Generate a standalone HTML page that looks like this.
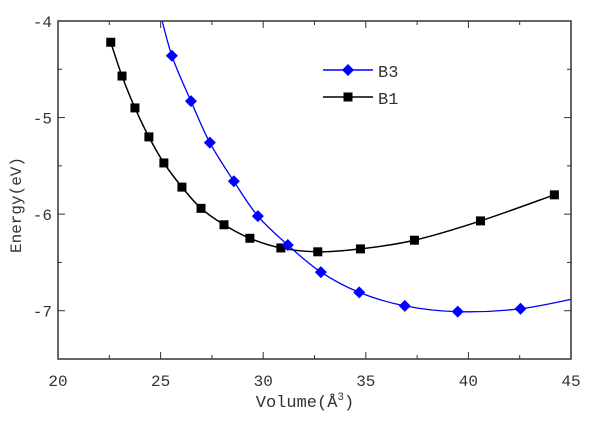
<!DOCTYPE html>
<html><head><meta charset="utf-8"><style>
body{margin:0;background:#fff;}
svg text{font-family:"Liberation Mono","DejaVu Sans Mono",monospace;fill:#333;}
</style></head><body>
<svg id="chart" width="600" height="417">
<defs><clipPath id="clip"><rect x="58" y="21" width="513" height="338"/></clipPath></defs>
<g id="series" clip-path="url(#clip)"></g>
<g id="axes"></g>
</svg>
<script>
const xTicks=[20,25,30,35,40,45];
const yTicks=[-4,-5,-6,-7];
const b1X=[22.57,23.12,23.75,24.43,25.16,26.04,26.97,28.09,29.35,30.86,32.66,34.74,37.37,40.59,44.19];
const b1Y=[-4.22,-4.57,-4.90,-5.20,-5.47,-5.72,-5.94,-6.11,-6.25,-6.35,-6.39,-6.36,-6.27,-6.07,-5.80];
const b3X=[25.55,26.48,27.40,28.57,29.74,31.2,32.81,34.68,36.9,39.48,42.54];
const b3Y=[-4.36,-4.83,-5.26,-5.66,-6.02,-6.32,-6.60,-6.81,-6.95,-7.01,-6.98];
const b3StartX=24.9, b3StartY=-3.85, b3EndX=45.5, b3EndY=-6.86;
const L=58,R=571,T=21,B=359,xMin=20,xMax=45,yMax=-4,yMin=-7.5;
const sx=v=>L+(v-xMin)/(xMax-xMin)*(R-L);
const sy=v=>T+(yMax-v)/(yMax-yMin)*(B-T);
const NS='http://www.w3.org/2000/svg';
const axes=document.getElementById('axes'),series=document.getElementById('series');
function mk(tag,attrs,parent){const e=document.createElementNS(NS,tag);for(const k in attrs)e.setAttribute(k,attrs[k]);parent.appendChild(e);return e;}
function smooth(pts){let d='M'+pts[0][0]+','+pts[0][1];for(let i=0;i<pts.length-1;i++){const p0=pts[i-1]||pts[i],p1=pts[i],p2=pts[i+1],p3=pts[i+2]||p2;d+=' C'+(p1[0]+(p2[0]-p0[0])/6)+','+(p1[1]+(p2[1]-p0[1])/6)+' '+(p2[0]-(p3[0]-p1[0])/6)+','+(p2[1]-(p3[1]-p1[1])/6)+' '+p2[0]+','+p2[1];}return d;}
// B1
let p1=b1X.map((x,i)=>[sx(x),sy(b1Y[i])]);
let l1=mk('path',{d:smooth(p1),fill:'none',stroke:'#000','stroke-width':1.5},series);


p1.forEach(p=>{const r=mk('rect',{x:p[0]-4.5,y:p[1]-4.5,width:9,height:9,fill:'#000'},series);

});
// B3
let p3=[[sx(b3StartX),sy(b3StartY)]].concat(b3X.map((x,i)=>[sx(x),sy(b3Y[i])])).concat([[sx(b3EndX),sy(b3EndY)]]);
let l3=mk('path',{d:smooth(p3),fill:'none',stroke:'#0000ff','stroke-width':1.3},series);


b3X.forEach((x,i)=>{const cx=sx(x),cy=sy(b3Y[i]);const d=mk('polygon',{points:`${cx},${cy-6} ${cx+6},${cy} ${cx},${cy+6} ${cx-6},${cy}`,fill:'#0000ff'},series);

});
// frame
const fr=mk('rect',{x:L,y:T,width:R-L,height:B-T,fill:'none',stroke:'#333','stroke-width':1.5},axes);


for(let v=20;v<=45;v+=2.5){const x=sx(v),len=(v%5===0)?7:4;
mk('line',{x1:x,y1:B,x2:x,y2:B-len,stroke:'#333'},axes);mk('line',{x1:x,y1:T,x2:x,y2:T+len,stroke:'#333'},axes);}
for(let v=-4;v>=-7.5;v-=0.5){const y=sy(v),len=(v%1===0)?7:4;
mk('line',{x1:L,y1:y,x2:L+len,y2:y,stroke:'#333'},axes);mk('line',{x1:R,y1:y,x2:R-len,y2:y,stroke:'#333'},axes);}
xTicks.forEach(v=>{const t=mk('text',{x:sx(v),y:386,'text-anchor':'middle','font-size':16},axes);t.textContent=v;

});
yTicks.forEach(v=>{const t=mk('text',{x:52,y:sy(v)+6,'text-anchor':'end','font-size':16},axes);t.textContent=v;

});
</script>
<svg style="position:absolute;left:0;top:0" width="600" height="417">
<text x="305" y="407" text-anchor="middle" font-size="17">Volume(Å<tspan dy="-7" font-size="11">3</tspan><tspan dy="7">)</tspan></text>
<text transform="translate(21,205) rotate(-90)" text-anchor="middle" font-size="16">Energy(eV)</text>
<g>
<line x1="323" y1="70" x2="373" y2="70" stroke="#0000ff" stroke-width="1.5"/>
<polygon points="348,64 354,70 348,76 342,70" fill="#0000ff"/>
<text x="378" y="77" font-size="17">B3</text></g>
<g>
<line x1="323" y1="97" x2="373" y2="97" stroke="#000" stroke-width="1.5"/>
<rect x="343.5" y="92.5" width="9" height="9" fill="#000"/>
<text x="378" y="104" font-size="17">B1</text></g>
</svg>
</body></html>
